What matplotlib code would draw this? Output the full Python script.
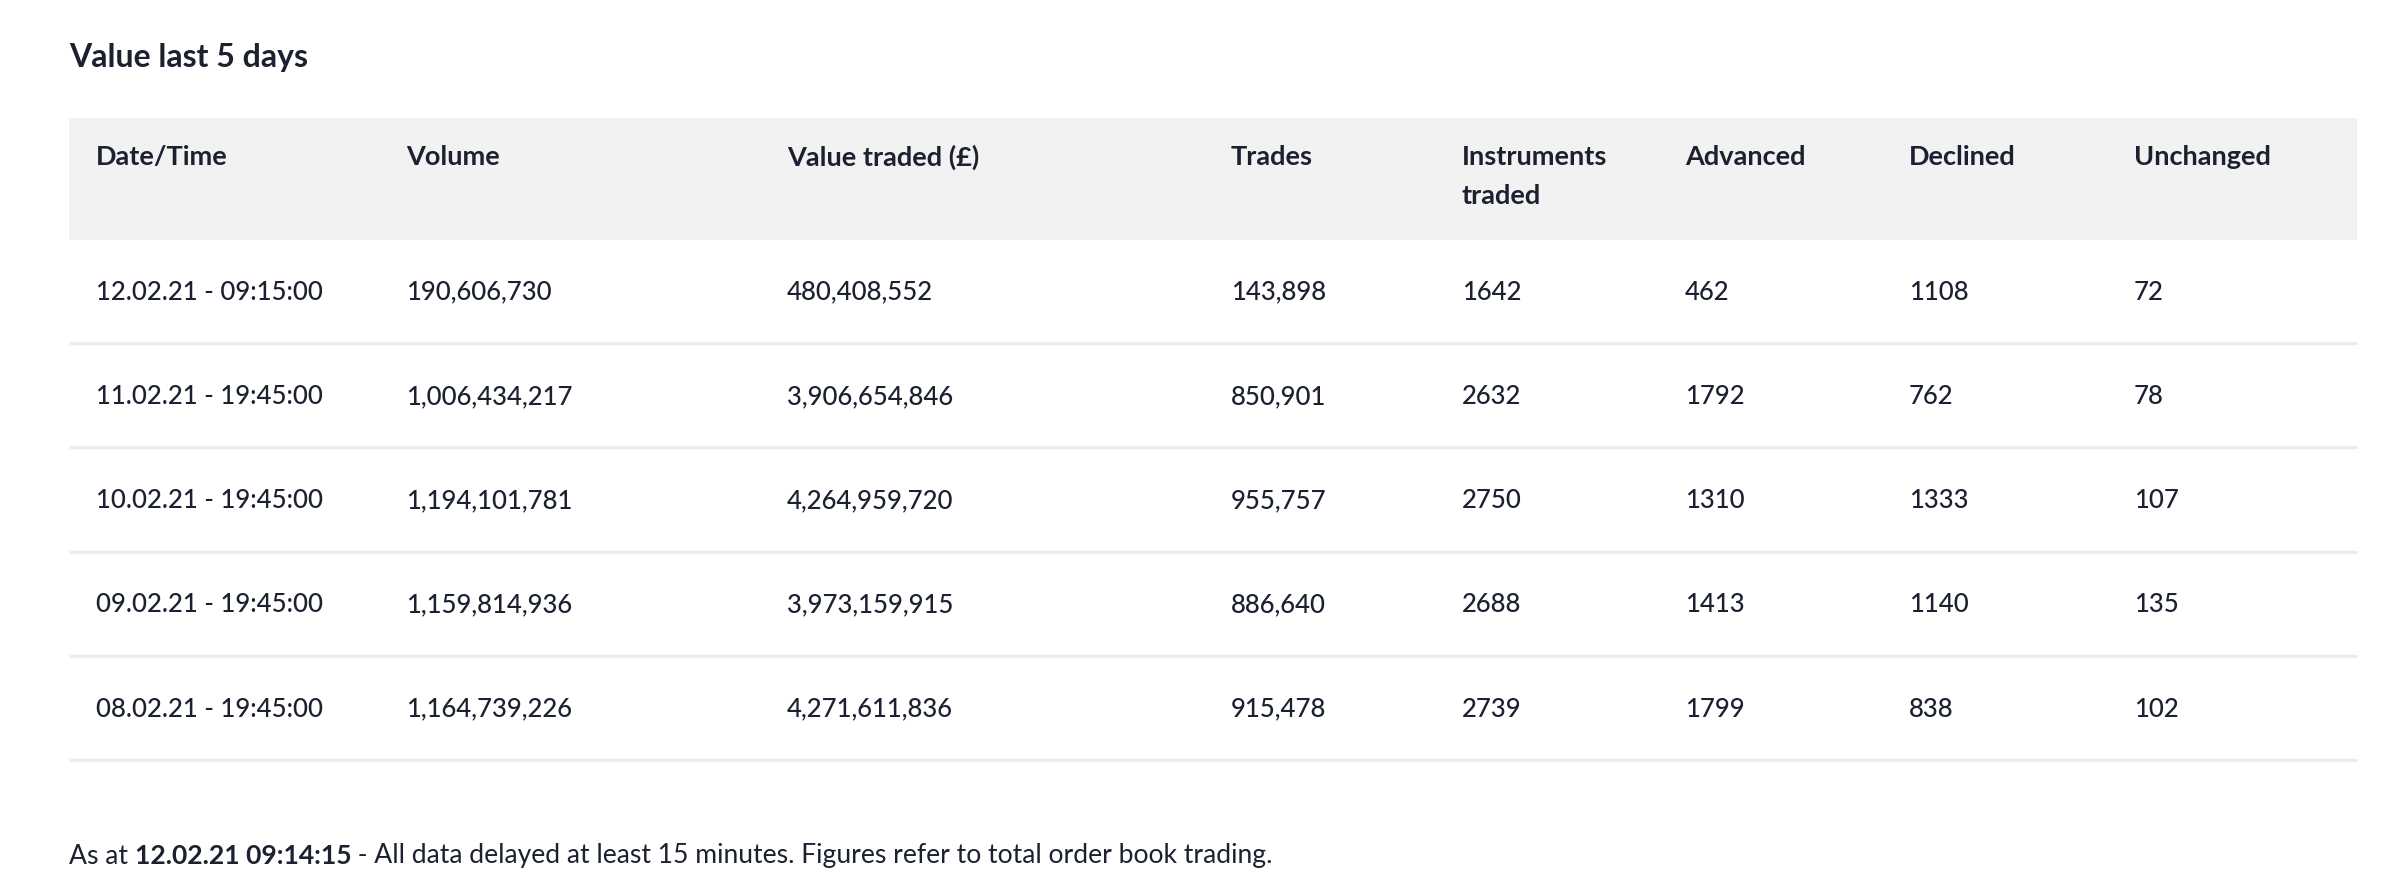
import matplotlib
matplotlib.use("Agg")
import matplotlib.pyplot as plt
from matplotlib.patches import Rectangle

plt.rcParams['font.family'] = ['Lato', 'DejaVu Sans']

# ---- data ----
title = "Value last 5 days"
headers = ["Date/Time", "Volume", "Value traded (£)", "Trades",
           "Instruments\ntraded", "Advanced", "Declined", "Unchanged"]
dates = ["12.02.21 - 09:15:00", "11.02.21 - 19:45:00", "10.02.21 - 19:45:00",
         "09.02.21 - 19:45:00", "08.02.21 - 19:45:00"]
volume = [190606730, 1006434217, 1194101781, 1159814936, 1164739226]
value_traded = [480408552, 3906654846, 4264959720, 3973159915, 4271611836]
trades = [143898, 850901, 955757, 886640, 915478]
instruments = [1642, 2632, 2750, 2688, 2739]
advanced = [462, 1792, 1310, 1413, 1799]
declined = [1108, 762, 1333, 1140, 838]
unchanged = [72, 78, 107, 135, 102]
footer_parts = [("As at ", "normal"), ("12.02.21 09:14:15", "bold"),
                (" - All data delayed at least 15 minutes. Figures refer to total order book trading.", "normal")]

# ---- layout (pixels) ----
W, H = 2400, 896
TXT = "#1b2130"
fig = plt.figure(figsize=(W / 100, H / 100), dpi=100)
ax = fig.add_axes([0, 0, 1, 1])
ax.set_xlim(0, W)
ax.set_ylim(H, 0)
ax.axis("off")

left, right = 69, 2357
col_x = [96, 406, 787, 1231, 1462, 1685, 1909, 2134]
header_top, header_bot = 118, 240
header_y = 157
line_gap = 39
row_y0, row_h = 292, 104.3

ax.text(left, 58, title, fontsize=23, fontweight="bold", color=TXT, va="center", ha="left")

ax.add_patch(Rectangle((left, header_top), right - left, header_bot - header_top,
                       facecolor="#f2f2f2", edgecolor="none"))
for x, h in zip(col_x, headers):
    for i, line in enumerate(h.split("\n")):
        ax.text(x, header_y + i * line_gap, line, fontsize=19.5, fontweight="bold",
                color=TXT, va="center", ha="left")

cols = [dates,
        [f"{v:,}" for v in volume],
        [f"{v:,}" for v in value_traded],
        [f"{v:,}" for v in trades],
        [str(v) for v in instruments],
        [str(v) for v in advanced],
        [str(v) for v in declined],
        [str(v) for v in unchanged]]

for r in range(len(dates)):
    y = row_y0 + r * row_h
    for x, col in zip(col_x, cols):
        ax.text(x, y, col[r], fontsize=18.5, fontweight="medium", color=TXT,
                va="center", ha="left")
    ly = row_y0 - 3 + r * row_h + 54
    ax.plot([left, right], [ly, ly], color="#ececec", lw=2.5, solid_capstyle="butt")

# footer with mixed weights
fig.canvas.draw()
renderer = fig.canvas.get_renderer()
x = left
inv = ax.transData.inverted()
for txt, wt in footer_parts:
    t = ax.text(x, 856, txt, fontsize=19.1, fontweight=wt, color=TXT, va="center", ha="left")
    bb = t.get_window_extent(renderer=renderer)
    x = inv.transform((bb.x1, bb.y0))[0]

fig.savefig("out.png", dpi=100, facecolor="white")
